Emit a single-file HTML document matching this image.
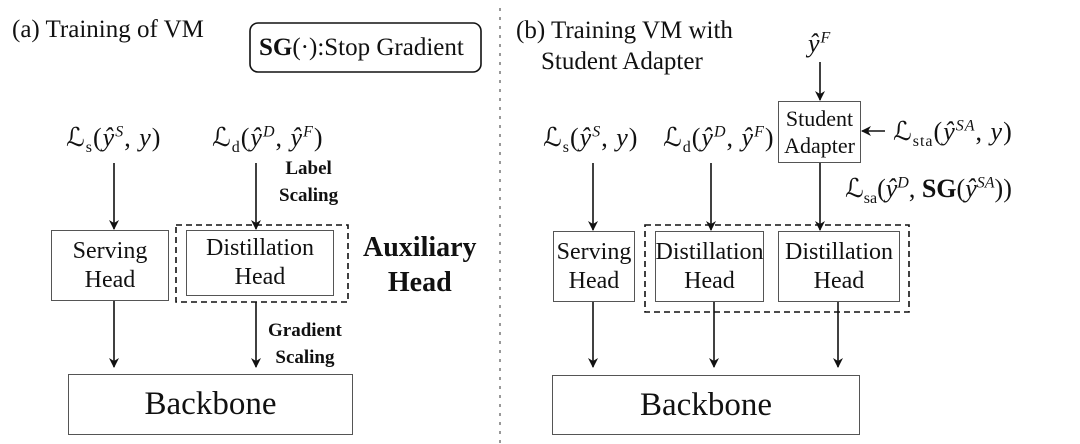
<!DOCTYPE html>
<html><head><meta charset="utf-8"><style>
body{margin:0;width:1080px;height:444px;background:#fff;position:relative;overflow:hidden;font-family:"Liberation Serif","Times New Roman","DejaVu Serif",serif;color:#111}
.t{position:absolute;white-space:nowrap;line-height:1}
.box{position:absolute;border:1.5px solid #555;box-sizing:border-box;display:flex;align-items:center;justify-content:center;text-align:center;font-size:24px;line-height:29px}
.b{font-weight:bold}
i{font-style:italic}
sub,sup{font-size:16px;line-height:0}
.m{font-size:26px;letter-spacing:1px}
</style></head><body>
<svg width="1080" height="444" style="position:absolute;left:0;top:0">
<defs><marker id="a" markerWidth="10" markerHeight="10" refX="9" refY="5" orient="auto" markerUnits="userSpaceOnUse"><path d="M0,0 L10,5 L0,10 L3,5 z" fill="#111"/></marker></defs>
<g stroke="#111" stroke-width="1.6" fill="none">
<line x1="114" y1="163" x2="114" y2="229" marker-end="url(#a)"/>
<line x1="256" y1="163" x2="256" y2="229" marker-end="url(#a)"/>
<line x1="114" y1="300" x2="114" y2="367" marker-end="url(#a)"/>
<line x1="256" y1="302" x2="256" y2="367" marker-end="url(#a)"/>
<line x1="593" y1="163" x2="593" y2="230" marker-end="url(#a)"/>
<line x1="711" y1="163" x2="711" y2="230" marker-end="url(#a)"/>
<line x1="820" y1="162" x2="820" y2="230" marker-end="url(#a)"/>
<line x1="820" y1="62" x2="820" y2="100" marker-end="url(#a)"/>
<line x1="885" y1="131" x2="862" y2="131" marker-end="url(#a)"/>
<line x1="593" y1="301" x2="593" y2="367" marker-end="url(#a)"/>
<line x1="714" y1="301" x2="714" y2="367" marker-end="url(#a)"/>
<line x1="838" y1="301" x2="838" y2="367" marker-end="url(#a)"/>
<rect x="176" y="225" width="172" height="77" stroke-dasharray="6,4"/>
<rect x="645" y="225" width="264" height="87" stroke-dasharray="6,4"/>
<rect x="250" y="23" width="231" height="49" rx="8"/>
</g>
<line x1="500" y1="8" x2="500" y2="444" stroke="#999" stroke-width="2" stroke-dasharray="3,6"/>
</svg>
<div class="t" style="left:12px;top:17px;font-size:25px">(a) Training of VM</div>
<div class="t" style="left:259px;top:35px;font-size:25px"><span class="b">SG</span>(·):Stop Gradient</div>
<div class="t m" style="left:66px;top:125px">ℒ<sub>s</sub>(<i>ŷ</i><sup><i>S</i></sup>, <i>y</i>)</div>
<div class="t m" style="left:212px;top:125px">ℒ<sub>d</sub>(<i>ŷ</i><sup><i>D</i></sup>, <i>ŷ</i><sup><i>F</i></sup>)</div>
<div class="t b" style="left:279px;top:155px;font-size:19px;line-height:27px;text-align:center">Label<br>Scaling</div>
<div class="t b" style="left:268px;top:317px;font-size:19px;line-height:27px;text-align:center">Gradient<br>Scaling</div>
<div class="t b" style="left:363px;top:230px;font-size:28px;line-height:35px;text-align:center">Auxiliary<br>Head</div>
<div class="box" style="left:51px;top:230px;width:118px;height:71px">Serving<br>Head</div>
<div class="box" style="left:186px;top:230px;width:148px;height:66px">Distillation<br>Head</div>
<div class="box" style="left:68px;top:374px;width:285px;height:61px;font-size:33px">Backbone</div>

<div class="t" style="left:516px;top:15px;font-size:25px;line-height:31px">(b) Training VM with<br>&nbsp;&nbsp;&nbsp;&nbsp;Student Adapter</div>
<div class="t m" style="left:808px;top:31px"><i>ŷ</i><sup><i>F</i></sup></div>
<div class="box" style="left:778px;top:101px;width:83px;height:62px;line-height:27px;font-size:22px">Student<br>Adapter</div>
<div class="t m" style="left:893px;top:119px">ℒ<sub>sta</sub>(<i>ŷ</i><sup><i>SA</i></sup>, <i>y</i>)</div>
<div class="t m" style="left:845px;top:176px;letter-spacing:0">ℒ<sub>sa</sub>(<i>ŷ</i><sup><i>D</i></sup>, <span class="b">SG</span>(<i>ŷ</i><sup><i>SA</i></sup>))</div>
<div class="t m" style="left:543px;top:125px">ℒ<sub>s</sub>(<i>ŷ</i><sup><i>S</i></sup>, <i>y</i>)</div>
<div class="t m" style="left:663px;top:125px">ℒ<sub>d</sub>(<i>ŷ</i><sup><i>D</i></sup>, <i>ŷ</i><sup><i>F</i></sup>)</div>
<div class="box" style="left:553px;top:231px;width:82px;height:71px">Serving<br>Head</div>
<div class="box" style="left:655px;top:231px;width:109px;height:71px">Distillation<br>Head</div>
<div class="box" style="left:778px;top:231px;width:122px;height:71px">Distillation<br>Head</div>
<div class="box" style="left:552px;top:375px;width:308px;height:60px;font-size:33px">Backbone</div>
</body></html>
